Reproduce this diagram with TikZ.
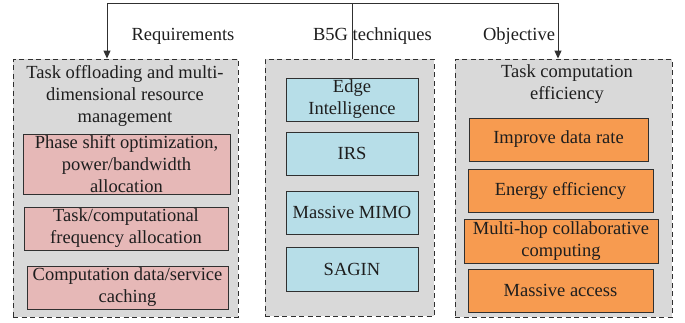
\documentclass[tikz,border=0pt]{standalone}
\usepackage{fontspec}
\setmainfont{Liberation Serif}
\usetikzlibrary{arrows.meta}
\definecolor{boxgray}{HTML}{D9D9D9}
\definecolor{pinkf}{HTML}{E6B8B7}
\definecolor{bluef}{HTML}{B7DEE8}
\definecolor{orangef}{HTML}{F79B50}
\definecolor{txt}{HTML}{1E1E1E}
\definecolor{ln}{HTML}{303030}
\tikzset{
  x=1pt, y=-1pt,
  every node/.style={font=\fontsize{18.5}{22}\selectfont, text=txt},
  outerbox/.style={draw=ln, fill=boxgray, dashed, dash pattern=on 5pt off 3.5pt, line width=0.9pt, inner sep=0pt},
  innerbox/.style={draw=ln, line width=0.9pt, inner sep=0pt, align=center},
  pinkbox/.style={innerbox, fill=pinkf},
  bluebox/.style={innerbox, fill=bluef},
  orangebox/.style={innerbox, fill=orangef},
  conn/.style={draw=ln, line width=0.9pt},
  arr/.style={conn, -{Triangle[width=7pt,length=8pt]}},
  lbl/.style={inner sep=0pt}
}
\begin{document}
\begin{tikzpicture}
\useasboundingbox (0,0) rectangle (685,322);
% outer containers
\node[outerbox, minimum width=225pt, minimum height=258pt] (lbox) at (125.5,188) {};
\node[outerbox, minimum width=169pt, minimum height=257pt] (mbox) at (349.5,187.5) {};
\node[outerbox, minimum width=217pt, minimum height=258pt] (rbox) at (563.5,188) {};
% titles
\node[lbl, align=center] (ltitle) at (125,96) {Task offloading and multi-\\dimensional resource\\management};
\node[lbl, align=center] (rtitle) at (567,84) {Task computation\\efficiency};
% left inner
\node[pinkbox, minimum width=207pt, minimum height=60pt] (l1) at (126.5,164) {Phase shift optimization,\\power/bandwidth\\allocation};
\node[pinkbox, minimum width=204pt, minimum height=43pt] (l2) at (126,228.5) {Task/computational\\frequency allocation};
\node[pinkbox, minimum width=201pt, minimum height=43pt] (l3) at (127.5,287.5) {Computation data/service\\caching};
% middle inner
\node[bluebox, minimum width=132pt, minimum height=43pt] (m1) at (352,99.5) {Edge\\Intelligence};
\node[bluebox, minimum width=132pt, minimum height=43pt] (m2) at (352,153.5) {IRS};
\node[bluebox, minimum width=132pt, minimum height=43pt] (m3) at (352,212.5) {Massive MIMO};
\node[bluebox, minimum width=132pt, minimum height=44pt] (m4) at (352,269) {SAGIN};
% right inner
\node[orangebox, minimum width=179pt, minimum height=43pt] (r1) at (558.5,139.5) {Improve data rate};
\node[orangebox, minimum width=185pt, minimum height=43pt] (r2) at (560.5,190.5) {Energy efficiency};
\node[orangebox, minimum width=194pt, minimum height=44pt] (r3) at (561,241) {Multi-hop collaborative\\computing};
\node[orangebox, minimum width=185pt, minimum height=43pt] (r4) at (560.5,290.5) {Massive access};
% labels
\node[lbl] (req) at (183,36) {Requirements};
\node[lbl] (b5g) at (372.5,36) {B5G techniques};
\node[lbl] (obj) at (519,36) {Objective};
% connectors
\coordinate (t1) at (107,3);
\coordinate (t2) at (352,3);
\coordinate (t3) at (558,3);
\draw[conn] (t1) -- (t3);
\draw[arr] (t1) -- (t1 |- lbox.north);
\draw[conn] (t2) -- (t2 |- mbox.north);
\draw[arr] (t3) -- (t3 |- rbox.north);
\end{tikzpicture}
\end{document}
